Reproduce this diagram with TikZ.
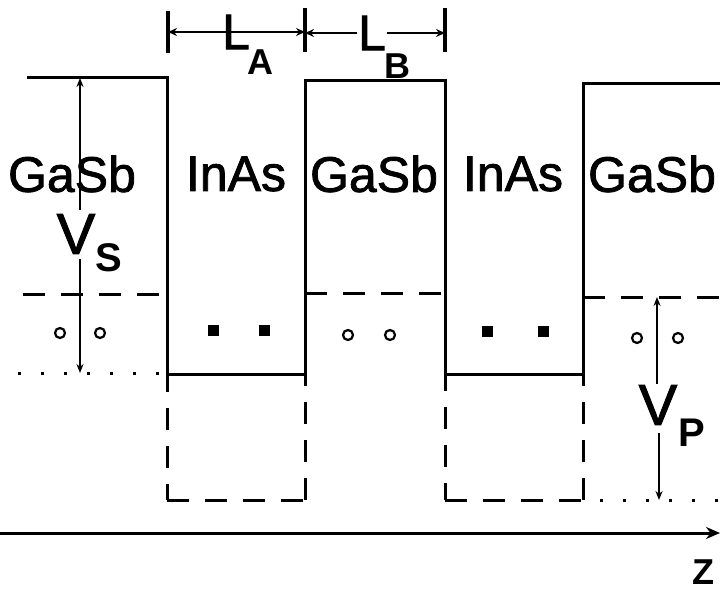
\documentclass[tikz,border=0pt]{standalone}
\usepackage{fontspec}
\setmainfont{Liberation Sans}
\newfontfamily\heavyfont{Liberation Sans}[FakeBold=1.6]
\usetikzlibrary{arrows.meta}
\begin{document}
\begin{tikzpicture}[x=1pt,y=-1pt,
  band/.style={line width=3pt, line join=miter},
  dsh/.style={line width=3pt, dash pattern=on 22pt off 16pt},
  dotl/.style={line width=3pt, dash pattern=on 3pt off 20pt},
  lbl/.style={font=\heavyfont\fontsize{50}{50}\selectfont, inner sep=0pt},
  big/.style={font=\heavyfont\fontsize{58}{58}\selectfont, inner sep=0pt},
  sub/.style={font=\fontsize{40}{40}\selectfont\bfseries, inner sep=0pt},
  dimbar/.style={line width=3.2pt},
  dimline/.style={line width=2.2pt, {Stealth[length=9pt,width=8pt]}-{Stealth[length=9pt,width=8pt]}},
  varr/.style={line width=1.6pt, -{Stealth[length=9pt,width=7pt]}},
  hole/.style={circle, draw, line width=2.2pt, minimum size=10pt, inner sep=0pt},
  elec/.style={rectangle, fill, minimum size=11pt, inner sep=0pt}]
\useasboundingbox (0,0) rectangle (720,591);
% conduction band profile
\draw[band] (27,78) -- (167,78) -- (167,374) -- (305,374) -- (305,81) -- (445,81)
  -- (445,374) -- (583,374) -- (583,84) -- (720,84);
% valence band (dashed)
\draw[dsh] (23,294) -- (167,294);
\draw[dsh] (167,294) -- (167,500);
\draw[dsh] (167,500) -- (305,500);
\draw[dsh] (305,500) -- (305,293);
\draw[dsh] (305,293) -- (445,293);
\draw[dsh] (445,293) -- (445,500);
\draw[dsh] (445,500) -- (583,500);
\draw[dsh] (583,500) -- (583,297);
\draw[dsh] (583,297) -- (720,297);
% dotted reference levels
\draw[dotl] (18,373) -- (167,373);
\draw[dotl] (600,500) -- (720,500);
% layer labels
\node[lbl] (g1) at (72,174) {GaSb};
\node[lbl] (i1) at (236,174) {InAs};
\node[lbl] (g2) at (374,174) {GaSb};
\node[lbl] (i2) at (513,174) {InAs};
\node[lbl] (g3) at (652,174) {GaSb};
% V_S
\node[big] (vs) at (76,234) {V};
\node[sub] (vss) at (109,258) {S};
\coordinate (vstop) at (80,78);
\coordinate (vsbot) at (80,373);
\draw[varr] (80,210) -- (vstop);
\draw[varr] (80,259) -- (vsbot);
% V_P
\node[big] (vp) at (658,405) {V};
\node[sub] (vps) at (692,433) {P};
\coordinate (vptop) at (657,297);
\coordinate (vpbot) at (659,500);
\draw[varr] (657,384) -- (vptop);
\draw[varr] (659,433) -- (vpbot);
% holes and electrons
\node[hole] (h1) at (60,333) {};
\node[hole] (h2) at (100,333) {};
\node[hole] (h3) at (348,335) {};
\node[hole] (h4) at (390,335) {};
\node[hole] (h5) at (637,338) {};
\node[hole] (h6) at (678,338) {};
\node[elec] (e1) at (213,330) {};
\node[elec] (e2) at (264,330) {};
\node[elec] (e3) at (487,331) {};
\node[elec] (e4) at (543,331) {};
% dimension L_A, L_B
\coordinate (d1) at (168,32);
\coordinate (d2) at (305,32);
\coordinate (d3) at (445,33);
\draw[dimbar] (168,11) -- (168,53);
\draw[dimbar] (305,8) -- (305,52);
\draw[dimbar] (445,8) -- (445,52);
\draw[dimline] (d1) -- (d2);
\draw[dimline] (305,33) -- (d3);
\node[lbl] (la) at (236,32) {L};
\node[sub, font=\fontsize{36}{36}\selectfont\bfseries] (las) at (260,62) {A};
\node[lbl, fill=white, inner xsep=1pt] (lb) at (372,33) {L};
\node[sub, font=\fontsize{36}{36}\selectfont\bfseries] (lbs) at (397,66) {B};
% z axis
\coordinate (z0) at (0,533);
\coordinate (z1) at (720,533);
\draw[line width=3pt, -{Stealth[length=14pt,width=12pt]}] (z0) -- (z1);
\node[sub, font=\fontsize{36}{36}\selectfont\bfseries] (zl) at (703,572) {Z};
\end{tikzpicture}
\end{document}
